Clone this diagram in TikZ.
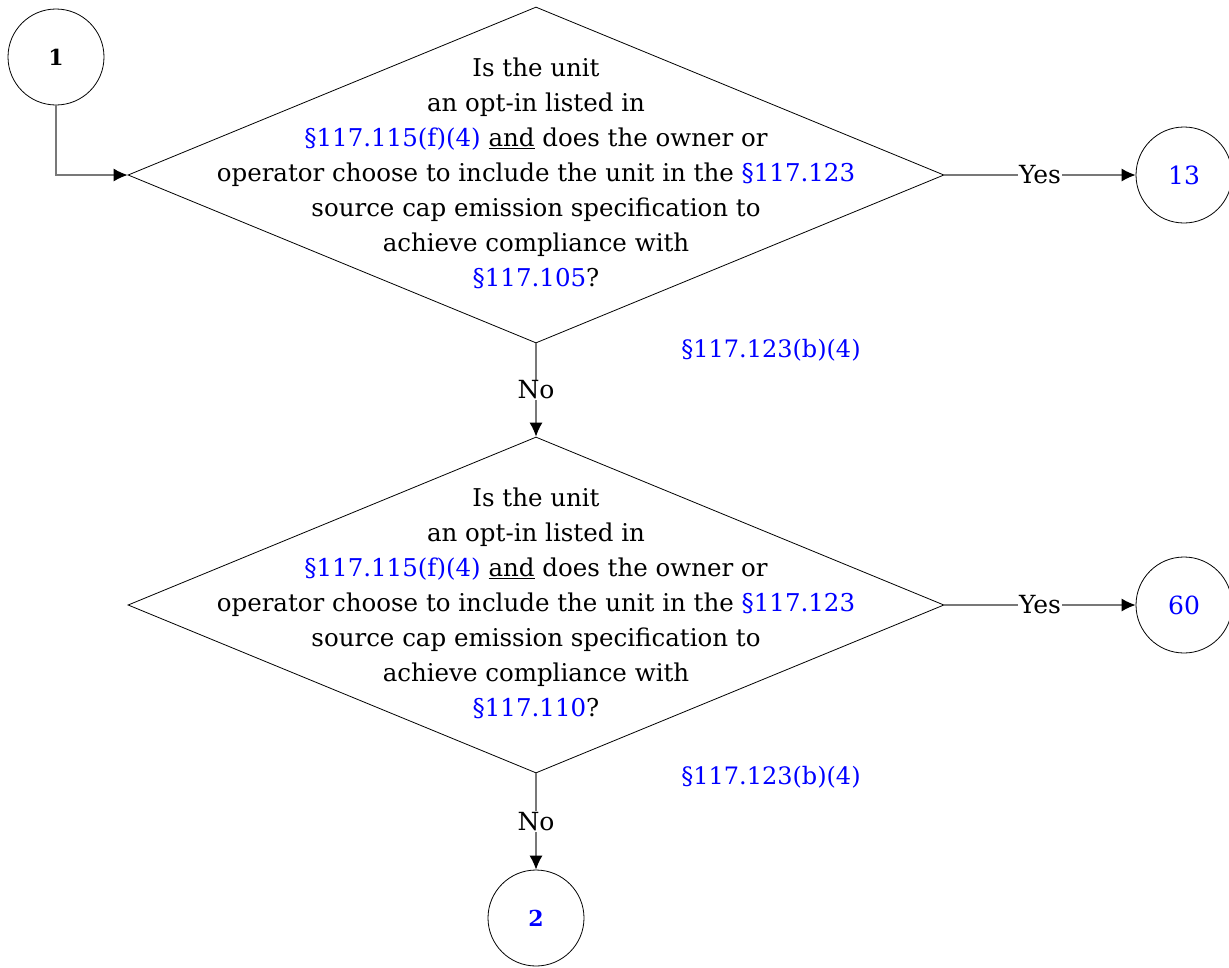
\documentclass[tikz,border=0pt]{standalone}
\usepackage{fontspec}
\setmainfont{DejaVu Serif}
\usetikzlibrary{shapes.geometric,arrows.meta}
\definecolor{refblue}{RGB}{0,0,255}
\definecolor{linegray}{RGB}{120,120,120}
\newcommand{\bref}[1]{\textcolor{refblue}{#1}}
\begin{document}
\begin{tikzpicture}[x=1pt,y=-1pt,
  decision/.style={draw=black,line width=0.8pt,diamond,inner sep=0pt,minimum width=816pt,minimum height=336pt},
  conn/.style={circle,draw=black,line width=0.8pt,minimum size=96pt,inner sep=0pt},
  dtext/.style={align=center,font=\fontsize{24.5}{35}\selectfont},
  flow/.style={draw=linegray,line width=1.2pt,-{Latex[length=14pt,width=13pt,black]}},
  lbl/.style={fill=white,inner sep=1pt,font=\fontsize{25}{28}\selectfont},
  reflbl/.style={text=refblue,font=\fontsize{24}{28}\selectfont}]
\useasboundingbox (0,0) rectangle (1229,967);
\node[conn] (c1) at (56,57) {\fontsize{22}{24}\selectfont\bfseries 1};
\node[decision] (d1) at (536,175) {};
\node[dtext] (t1) at (536,173) {Is the unit\\an opt-in listed in\\\bref{§117.115(f)(4)} \underline{and} does the owner or\\operator choose to include the unit in the \bref{§117.123}\\source cap emission specification to\\achieve compliance with\\\bref{§117.105}?};
\node[conn] (c13) at (1184,175) {\fontsize{25}{28}\selectfont\textcolor{refblue}{13}};
\node[reflbl] (r1) at (771,350) {§117.123(b)(4)};
\node[decision] (d2) at (536,605) {};
\node[dtext] (t2) at (536,603) {Is the unit\\an opt-in listed in\\\bref{§117.115(f)(4)} \underline{and} does the owner or\\operator choose to include the unit in the \bref{§117.123}\\source cap emission specification to\\achieve compliance with\\\bref{§117.110}?};
\node[conn] (c60) at (1184,605) {\fontsize{25}{28}\selectfont\textcolor{refblue}{60}};
\node[reflbl] (r2) at (771,777) {§117.123(b)(4)};
\node[conn] (c2) at (536,918) {\fontsize{22}{24}\selectfont\bfseries\textcolor{refblue}{2}};
\coordinate (k1) at (56,175);
\draw[flow] (c1.south) -- (k1) -- (d1.west);
\draw[flow] (d1.east) -- node[lbl]{Yes} (c13.west);
\draw[flow] (d1.south) -- node[lbl]{No} (d2.north);
\draw[flow] (d2.east) -- node[lbl]{Yes} (c60.west);
\draw[flow] (d2.south) -- node[lbl]{No} (c2.north);
\end{tikzpicture}
\end{document}
